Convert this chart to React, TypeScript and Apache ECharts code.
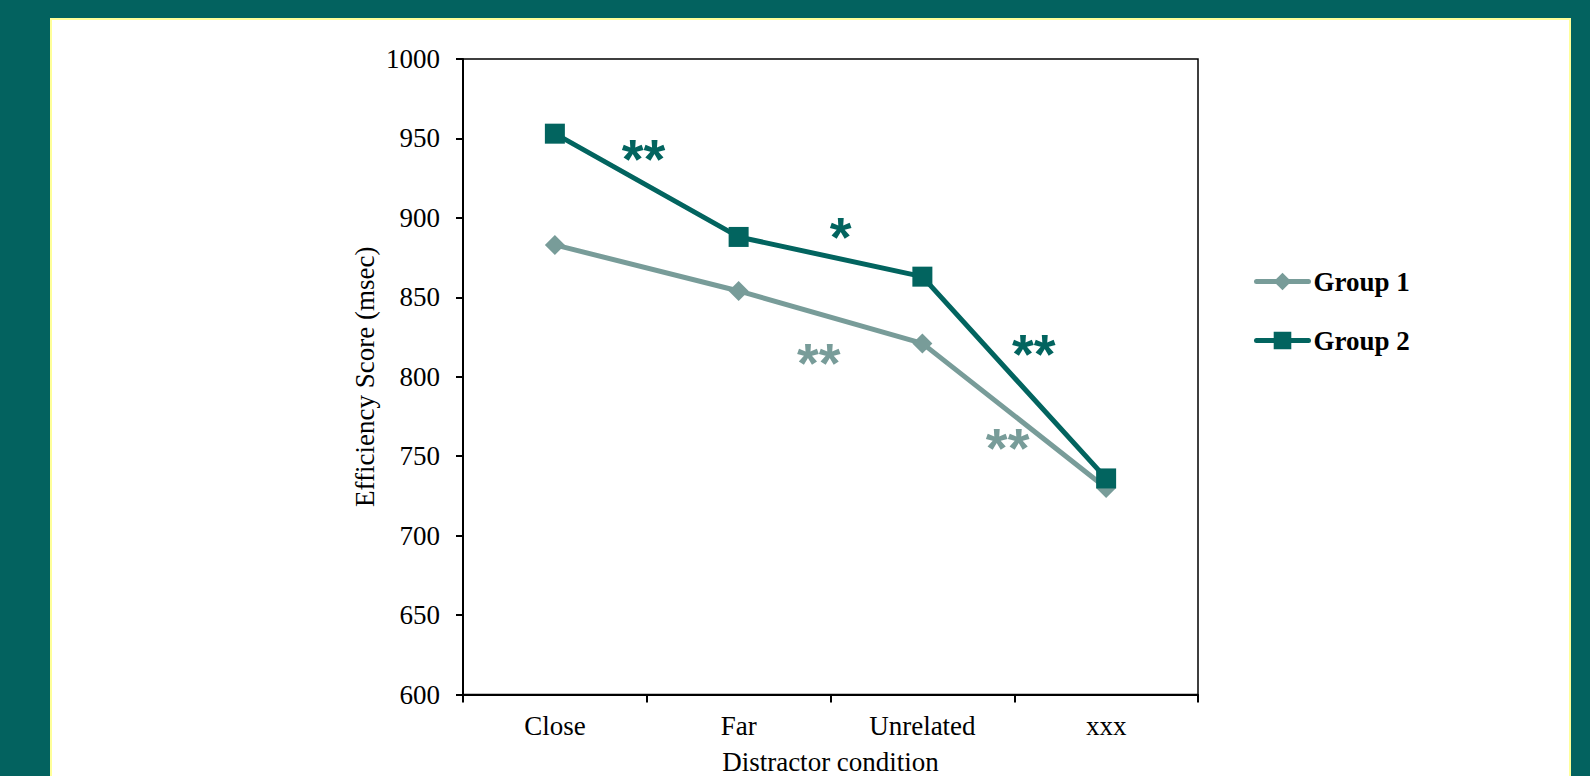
import React, { useEffect, useRef } from "react";
import * as echarts from "echarts";

const categories = ["Close", "Far", "Unrelated", "xxx"];
const group1 = [883, 854, 821, 730];
const group2 = [953, 888, 863, 736];
const seriesNames = ["Group 1", "Group 2"];
const yMin = 600;
const yMax = 1000;
const yInterval = 50;
const xAxisTitle = "Distractor condition";
const yAxisTitle = "Efficiency Score (msec)";

// significance marks: [category position (index), value, text, group]
const sigMarks: [number, number, string, number][] = [
  [0.483, 942.7, "**", 2],
  [1.555, 893.6, "*", 2],
  [1.436, 814.3, "**", 1],
  [2.606, 819.4, "**", 2],
  [2.464, 760.2, "**", 1],
];

const BG = "#03625F";
const C1 = "#789C99";
const C2 = "#02645F";
const SERIF = "'Liberation Serif', 'Times New Roman', serif";
const FS = 27;

export default function App() {
  const ref = useRef<HTMLDivElement>(null);
  useEffect(() => {
    if (!ref.current) return;
    const chart = echarts.init(ref.current, undefined, { renderer: "svg" });
    chart.setOption({
      animation: false,
      backgroundColor: BG,
      graphic: [
        {
          type: "rect",
          z: -10,
          silent: true,
          shape: { x: 51, y: 19, width: 1519, height: 800 },
          style: { fill: "#ffffff", stroke: "#FFFF99", lineWidth: 2 },
        },
      ],
      grid: {
        left: 463,
        top: 59,
        width: 735,
        height: 635.5,
        show: true,
        borderColor: "#000",
        borderWidth: 1.5,
        backgroundColor: "transparent",
        containLabel: false,
        outerBoundsMode: "none",
      },
      legend: {
        data: seriesNames,
        orient: "vertical",
        left: 1254,
        top: 268,
        padding: 0,
        itemWidth: 52,
        itemHeight: 22,
        itemGap: 32,
        lineStyle: { width: 5, cap: "round" },
        textStyle: { fontFamily: SERIF, fontSize: FS, fontWeight: "bold", color: "#000" },
      },
      xAxis: [
        {
          type: "category",
          data: categories,
          boundaryGap: true,
          axisLine: { lineStyle: { color: "#000", width: 2 } },
          axisTick: { show: true, length: 8, lineStyle: { color: "#000", width: 2 } },
          axisLabel: { fontFamily: SERIF, fontSize: FS, color: "#000", margin: 18 },
          splitLine: { show: false },
          name: xAxisTitle,
          nameLocation: "middle",
          nameGap: 56,
          nameTextStyle: { fontFamily: SERIF, fontSize: FS, color: "#000", lineHeight: 22 },
        },
        { type: "value", min: -0.5, max: 3.5, show: false },
      ],
      yAxis: {
        type: "value",
        min: yMin,
        max: yMax,
        interval: yInterval,
        axisLine: { show: true, onZero: false, lineStyle: { color: "#000", width: 2 } },
        axisTick: { show: true, length: 7, lineStyle: { color: "#000", width: 2 } },
        axisLabel: {
          fontFamily: SERIF,
          fontSize: FS,
          color: "#000",
          margin: 23,
          formatter: (v: number) => String(v),
        },
        splitLine: { show: false },
        name: yAxisTitle,
        nameLocation: "middle",
        nameGap: 85,
        nameRotate: 90,
        nameTextStyle: { fontFamily: SERIF, fontSize: FS, color: "#000" },
      },
      series: [
        {
          name: seriesNames[0],
          type: "line",
          data: group1,
          symbol: "diamond",
          symbolSize: 20,
          lineStyle: { color: C1, width: 5 },
          itemStyle: { color: C1 },
        },
        {
          name: seriesNames[1],
          type: "line",
          data: group2,
          symbol: "rect",
          symbolSize: 20,
          lineStyle: { color: C2, width: 5 },
          itemStyle: { color: C2 },
        },
        {
          name: "sig",
          type: "scatter",
          xAxisIndex: 1,
          symbolSize: 0,
          silent: true,
          itemStyle: { opacity: 1 },
          data: sigMarks.map((m) => ({
            value: [m[0], m[1]],
            itemStyle: { color: m[3] === 1 ? C1 : C2, opacity: 1 },
            label: {
              show: true,
              position: "inside",
              formatter: m[2],
              color: m[3] === 1 ? C1 : C2,
              opacity: 1,
              textBorderWidth: 0,
              textBorderColor: "transparent",
              fontFamily: "'Liberation Sans', Arial, sans-serif",
              fontWeight: "bold",
              fontSize: 56,
              offset: [0, 8],
            },
          })),
        },
      ],
    });
    return () => chart.dispose();
  }, []);
  return (
    <div
      ref={ref}
      style={{ position: "fixed", left: 0, top: 0, width: 1590, height: 776 }}
    />
  );
}
